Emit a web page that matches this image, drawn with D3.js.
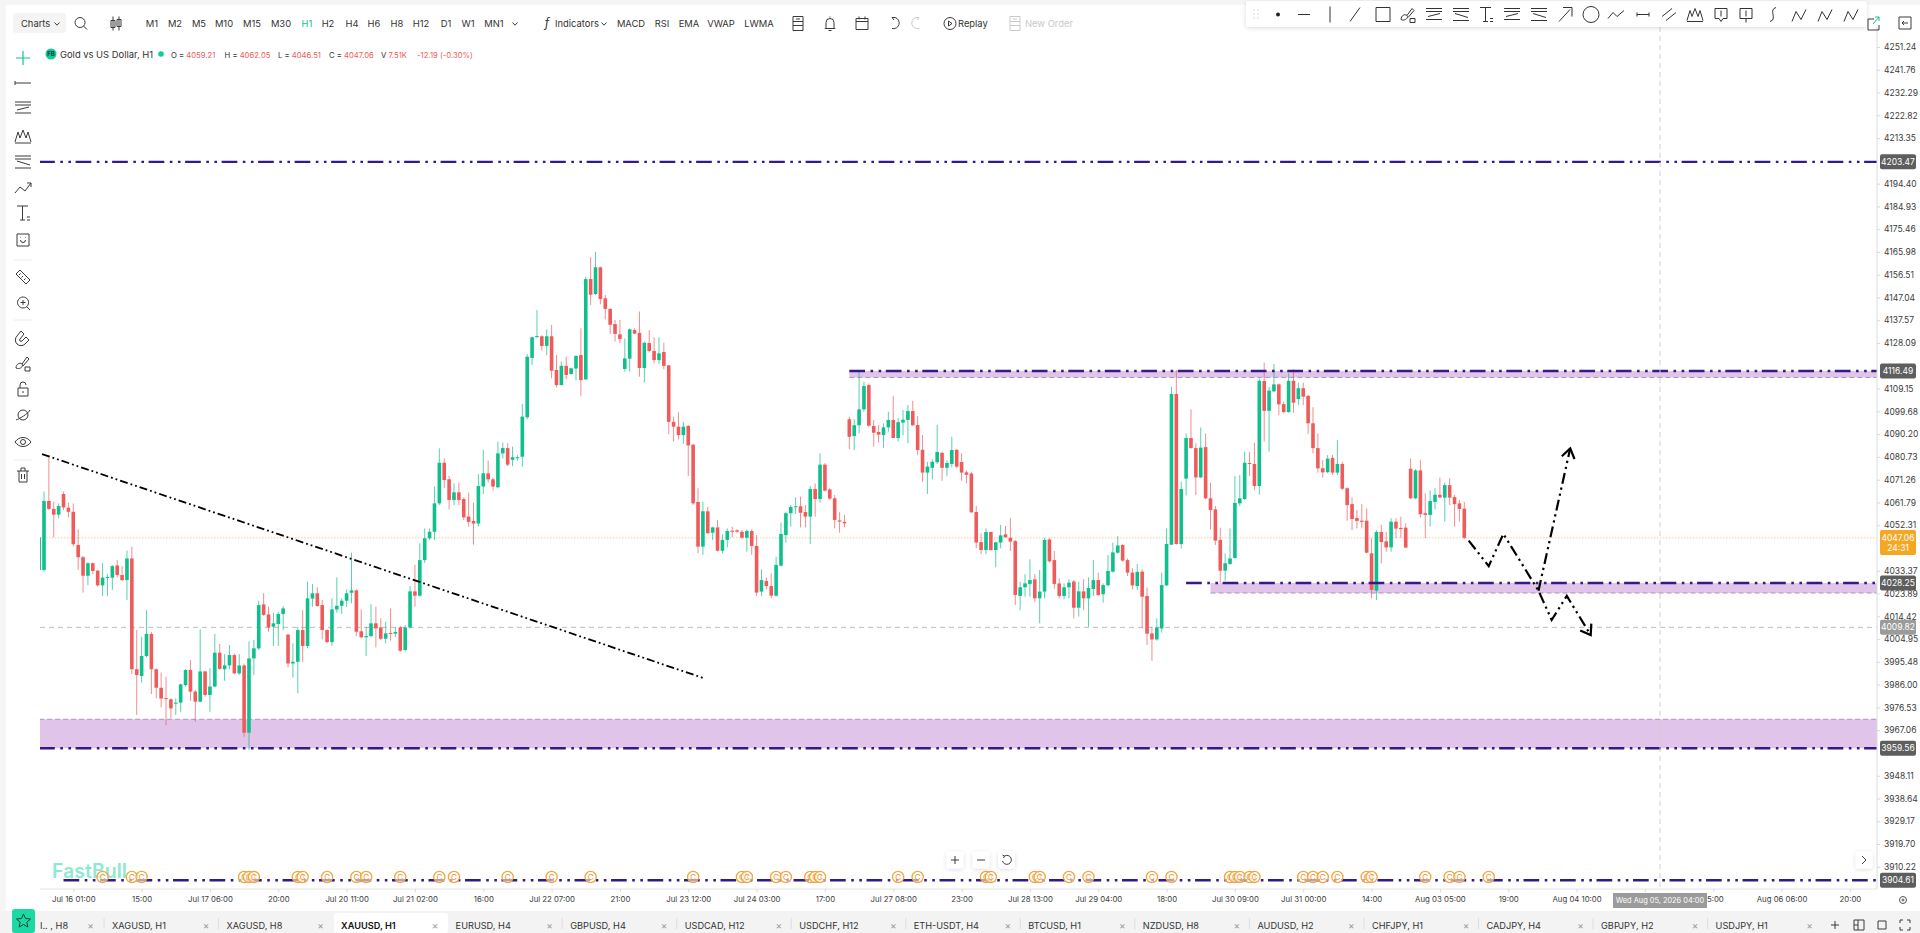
<!DOCTYPE html>
<html>
<head>
<meta charset="utf-8">
<title>XAUUSD H1</title>
<script src="https://cdn.jsdelivr.net/npm/d3@7"></script>
<style>
  html, body { margin: 0; background: #fff; overflow: hidden; }
  svg { display: block; font-family: Inter, Roboto, sans-serif; }
  .axis path { display: none; }
  .axis line { stroke: #d9d9d9; }
  .axis text { fill: #3c3c3c; font-family: Inter, Roboto, sans-serif; }
  .price text { font-size: 8.5px; }
  .time text { font-size: 7.8px; }
</style>
</head>
<body>
<svg id="chart" width="1920" height="933"></svg>
<script>
// candles, one row per hour: open, high, low, close
const barsJul16to21 = [
  [4033.7,4047.3,4033.7,4047.3],
  [4033.7,4066.3,4033.0,4062.4],[4062.4,4081.5,4058.6,4059.1],[4059.1,4062.1,4047.3,4056.7],[4056.7,4061.4,4055.2,4060.3],
  [4065.3,4066.3,4058.6,4059.7],[4059.6,4061.7,4055.6,4057.9],[4057.9,4061.4,4043.4,4044.4],[4044.1,4050.6,4033.7,4039.0],
  [4039.0,4039.5,4024.3,4031.3],[4031.3,4036.9,4027.4,4036.5],[4036.5,4036.9,4032.0,4033.3],[4033.4,4033.7,4026.7,4027.3],
  [4027.3,4036.5,4022.9,4030.5],[4030.5,4032.0,4022.9,4030.8],[4030.5,4035.8,4025.4,4035.3],[4035.6,4037.8,4030.6,4031.6],
  [4031.6,4035.3,4029.0,4029.5],[4029.5,4041.7,4021.2,4038.5],[4038.5,4043.4,3990.4,3992.4],[3992.4,4008.7,3973.4,3990.0],
  [3989.6,4005.9,3986.8,3997.9],[3997.9,4017.0,3997.4,4007.1],[4007.1,4008.0,3982.1,3992.4],[3992.4,3992.8,3980.3,3984.7],
  [3984.7,3991.0,3976.6,3980.2],[3980.4,3989.3,3969.2,3980.0],[3979.9,3980.3,3972.0,3976.1],[3978.2,3980.3,3973.4,3978.5],
  [3978.5,3986.5,3974.7,3986.1],[3985.8,3992.4,3985.2,3992.1],[3992.1,3996.2,3979.3,3983.1],[3983.1,3983.8,3970.6,3978.9],
  [3978.9,4009.0,3978.6,3991.5],[3991.5,3991.8,3981.0,3981.7],[3981.7,3992.8,3974.7,3985.2],[3985.2,4007.1,3984.9,3999.3],
  [3999.3,4002.9,3992.1,3992.6],[3992.4,3998.7,3987.6,3994.0],[3994.0,4002.5,3992.4,3998.3],[3998.3,3999.0,3990.3,3990.7],
  [3990.7,3998.7,3990.0,3994.0],[3994.0,3994.8,3964.3,3966.0],[3966.0,4003.9,3958.8,3996.9],[3996.9,4004.6,3990.0,4001.1],
  [4001.1,4020.9,4000.4,4019.1],[4019.4,4024.0,4014.6,4015.0],[4015.2,4018.4,4008.0,4009.8],[4010.1,4015.9,4002.1,4011.5],
  [4011.2,4016.3,4002.1,4015.4],[4015.4,4018.7,4008.7,4017.7],[4006.8,4007.1,3993.2,3994.8],[3994.8,4003.2,3989.0,3995.5],
  [3995.5,4010.1,3982.4,4008.7],[4008.7,4017.0,3995.5,4002.1],[4002.1,4028.8,4001.1,4021.9],[4021.8,4027.9,4018.4,4024.0],
  [4024.0,4026.5,4018.4,4018.7],[4019.1,4021.2,4004.8,4008.7],[4008.7,4009.0,4003.2,4003.7],[4003.7,4021.9,4002.1,4017.3],
  [4017.3,4030.6,4015.9,4018.8],[4018.8,4021.9,4015.4,4020.9],[4020.9,4025.6,4018.4,4024.0],[4024.2,4040.9,4019.8,4025.2],
  [4025.2,4025.6,4006.2,4008.0],[4008.2,4017.3,4005.3,4005.7],[4005.7,4010.1,3997.9,4006.2],[4006.2,4019.5,4005.7,4011.5],
  [4011.5,4018.4,4001.5,4009.4],[4009.8,4013.6,4004.6,4005.1],[4005.1,4012.2,4003.2,4007.3],[4007.5,4017.7,4004.3,4007.2],
  [4007.2,4009.8,4005.7,4007.9],[4009.8,4010.4,3999.7,4000.1],[4000.4,4010.8,3999.8,4009.8],[4009.8,4027.0,4009.4,4024.8],
  [4024.8,4035.8,4018.4,4023.0],[4023.0,4044.8,4022.6,4037.8],[4037.8,4051.0,4036.7,4046.9],[4046.9,4051.0,4046.2,4049.6],
  [4049.6,4068.4,4046.2,4061.4],[4061.4,4084.3,4060.7,4078.3],[4078.3,4080.1,4067.7,4071.1],[4071.4,4072.8,4058.9,4062.8]
];
const barsJul21to24 = [
  [4062.8,4069.7,4060.7,4066.0],[4066.0,4070.0,4060.7,4062.8],[4063.2,4063.9,4054.5,4055.6],[4055.9,4065.9,4051.7,4053.7],
  [4054.1,4061.7,4044.2,4053.0],[4053.0,4073.6,4051.7,4068.6],[4068.4,4083.6,4065.3,4073.9],[4073.9,4079.2,4070.0,4071.4],
  [4071.4,4072.2,4066.7,4068.4],[4068.1,4087.1,4067.7,4082.2],[4082.2,4086.6,4080.1,4084.4],[4084.4,4086.4,4076.9,4077.5],
  [4079.5,4085.0,4076.9,4080.6],[4080.3,4081.5,4079.2,4080.6],[4080.8,4102.7,4076.7,4097.5],[4097.2,4123.5,4096.4,4122.4],
  [4121.9,4130.8,4119.0,4130.5],[4130.6,4141.8,4130.1,4131.0],[4130.9,4131.3,4124.9,4126.9],[4126.9,4133.8,4123.1,4130.9],
  [4130.9,4135.6,4113.4,4116.6],[4116.9,4123.1,4109.7,4110.6],[4110.6,4120.4,4110.5,4118.6],[4118.6,4122.4,4113.0,4114.8],
  [4115.2,4117.9,4115.0,4117.6],[4117.5,4123.1,4112.5,4122.7],[4123.1,4134.2,4106.1,4112.7],[4113.0,4155.7,4112.7,4154.7],
  [4154.7,4163.8,4143.9,4148.2],[4148.5,4166.1,4148.1,4159.6],[4159.6,4159.9,4144.2,4146.4],[4146.7,4148.1,4138.0,4142.3],
  [4142.3,4142.5,4131.9,4135.7],[4136.0,4137.7,4128.7,4131.9],[4131.7,4137.7,4128.0,4129.8],[4117.3,4130.0,4116.2,4121.7],
  [4121.6,4134.2,4116.2,4133.8],[4133.5,4134.2,4131.9,4132.0],[4132.3,4141.2,4114.1,4117.7],[4117.7,4128.7,4111.7,4128.2],
  [4128.1,4133.5,4124.1,4124.8],[4124.8,4130.5,4119.6,4121.0],[4121.0,4130.5,4119.4,4123.8],[4124.4,4128.2,4117.2,4118.6],
  [4118.8,4119.1,4090.1,4095.3],[4095.3,4097.5,4087.1,4093.3],[4093.3,4099.3,4088.0,4089.8],[4089.8,4095.4,4086.1,4093.3],
  [4093.6,4094.0,4072.8,4085.5],[4085.8,4086.1,4060.7,4061.4],[4062.0,4067.7,4040.6,4043.4],[4043.4,4062.1,4040.0,4058.1],
  [4058.1,4060.0,4048.7,4049.0],[4049.2,4051.7,4046.2,4051.4],[4051.4,4054.5,4041.4,4041.7],[4041.7,4048.5,4040.6,4046.2],
  [4046.2,4051.0,4043.1,4049.9],[4050.0,4051.7,4047.3,4049.8],[4050.2,4050.6,4049.2,4049.6],[4049.6,4050.3,4046.7,4047.1],
  [4047.1,4050.6,4041.3,4049.9],[4049.9,4050.6,4040.0,4043.7],[4043.7,4048.2,4022.9,4024.3],[4024.7,4034.0,4022.9,4029.5],
  [4029.1,4030.6,4025.6,4027.0],[4027.0,4032.3,4021.9,4023.0],[4023.0,4039.2,4022.6,4035.8],[4035.5,4053.4,4035.1,4048.7],
  [4048.2,4058.0,4045.1,4057.3],[4057.3,4060.7,4051.7,4059.9],[4059.9,4063.9,4057.0,4060.2],[4060.2,4064.2,4051.4,4057.5],
  [4057.8,4060.7,4051.4,4055.9],[4055.9,4068.6,4044.5,4067.4],[4067.4,4069.7,4055.9,4063.2],[4063.2,4082.2,4061.7,4077.5],
  [4077.5,4078.1,4066.3,4066.7],[4067.2,4067.7,4062.8,4063.4],[4063.5,4064.9,4051.0,4054.5],[4054.3,4057.7,4049.2,4053.8],
  [4053.7,4056.6,4051.4,4053.1]
];
const barsJul27toAug03 = [
  [4096.4,4097.5,4083.9,4089.1],[4089.4,4096.4,4083.6,4093.9],[4093.9,4116.6,4090.5,4100.5],[4100.5,4112.0,4099.5,4110.2],
  [4110.6,4111.3,4093.3,4093.7],[4093.6,4096.1,4085.0,4090.8],[4091.1,4094.0,4086.7,4090.0],[4089.8,4094.7,4084.6,4093.0],
  [4093.0,4099.5,4091.2,4096.1],[4096.1,4106.1,4088.5,4088.6],[4088.6,4096.8,4087.1,4095.2],[4095.0,4100.2,4089.8,4096.2],
  [4096.1,4102.3,4086.4,4099.8],[4099.8,4104.1,4093.6,4093.9],[4094.0,4097.7,4081.5,4083.6],[4083.7,4089.8,4070.4,4074.2],
  [4074.2,4078.7,4065.3,4076.7],[4076.2,4079.7,4071.4,4078.7],[4078.5,4094.0,4077.8,4082.8],[4082.4,4082.9,4070.8,4076.2],
  [4076.2,4079.2,4072.8,4078.2],[4077.8,4089.1,4076.4,4083.6],[4083.7,4083.9,4076.0,4076.7],[4078.6,4082.2,4070.8,4074.2],
  [4074.3,4075.0,4069.7,4073.3],[4073.8,4074.6,4057.3,4057.7],[4057.8,4060.3,4042.7,4045.1],[4045.3,4048.9,4040.3,4042.0],
  [4042.0,4051.0,4040.3,4049.5],[4049.5,4049.6,4041.7,4042.0],[4042.0,4045.5,4034.8,4045.2],[4045.1,4052.4,4042.7,4048.1],
  [4048.5,4052.0,4047.0,4047.3],[4047.1,4055.2,4041.6,4045.5],[4045.7,4046.2,4019.1,4023.3],[4022.9,4028.8,4017.0,4026.5],
  [4026.5,4032.0,4022.6,4028.1],[4027.9,4038.1,4022.6,4029.5],[4029.8,4032.0,4020.5,4021.9],[4021.9,4033.7,4011.5,4024.7],
  [4024.7,4047.1,4021.9,4046.2],[4046.4,4046.9,4036.7,4037.3],[4037.8,4041.6,4025.9,4027.9],[4028.1,4030.2,4021.9,4022.9],
  [4022.9,4028.1,4021.5,4026.5],[4026.5,4029.8,4021.9,4028.4],[4028.9,4029.5,4013.6,4018.0],[4018.0,4028.8,4014.3,4024.8],
  [4024.8,4029.8,4017.0,4021.9],[4021.9,4030.6,4010.1,4026.2],[4025.8,4037.8,4022.9,4029.5],[4029.5,4032.6,4022.9,4023.3],
  [4023.6,4028.1,4020.1,4027.4],[4027.3,4039.9,4027.0,4033.3],[4033.0,4045.1,4032.6,4041.0],[4040.9,4047.8,4040.3,4043.9],
  [4044.1,4044.4,4037.1,4037.6],[4037.8,4038.5,4031.2,4032.6],[4032.6,4034.4,4025.6,4027.3],[4027.0,4036.2,4025.4,4032.9],
  [4033.0,4034.0,4009.4,4022.6],[4022.9,4026.5,4002.5,4007.2],[4007.3,4010.1,3995.9,4004.8],[4004.8,4013.6,4004.3,4009.8],
  [4009.4,4032.6,4007.6,4027.4],[4027.3,4051.0,4027.0,4044.5],[4044.2,4109.9,4044.1,4106.9],[4106.9,4116.9,4044.2,4044.5],
  [4044.5,4070.4,4042.6,4067.4],[4071.7,4090.5,4064.7,4088.6],[4088.6,4100.5,4084.2,4084.4],[4084.4,4086.4,4064.9,4072.2],
  [4072.2,4093.0,4071.9,4084.6],[4084.8,4090.5,4063.1,4063.5],[4063.5,4070.0,4050.6,4058.6],[4058.9,4060.3,4044.1,4045.9],
  [4046.2,4051.3,4028.4,4033.4],[4033.4,4040.6,4029.2,4036.5],[4036.2,4051.0,4035.8,4038.5],[4038.7,4072.8,4038.4,4061.6],
  [4061.4,4073.2,4060.3,4063.5],[4063.2,4082.9,4062.8,4078.3],[4078.2,4082.9,4072.8,4077.9],[4077.8,4086.7,4066.9,4068.6],
  [4068.6,4113.4,4065.0,4112.4],[4112.3,4119.9,4087.1,4099.9],[4099.9,4109.9,4082.9,4108.3],[4108.0,4119.4,4107.7,4110.9],
  [4110.9,4111.3,4098.2,4102.6],[4102.7,4103.7,4098.9,4099.4],[4099.4,4115.5,4099.1,4112.4],[4112.4,4117.2,4099.1,4103.3],
  [4104.8,4111.6,4102.3,4109.3],[4109.3,4111.6,4102.3,4105.8],[4106.1,4106.5,4090.3,4094.7],[4094.7,4101.4,4082.2,4084.4],
  [4084.4,4090.5,4074.2,4076.0],[4076.0,4079.4,4072.2,4074.3],[4074.4,4081.5,4073.9,4080.0],[4080.3,4081.5,4073.2,4074.2],
  [4074.2,4087.8,4073.2,4077.8],[4077.8,4078.7,4066.9,4067.5],[4067.7,4068.1,4054.2,4060.7],[4061.1,4063.9,4050.3,4054.9],
  [4055.3,4058.6,4051.0,4054.1],[4054.2,4061.1,4051.0,4053.7],[4054.2,4059.3,4040.6,4040.9],[4040.6,4046.9,4021.9,4025.4],
  [4025.1,4050.3,4021.2,4049.5],[4049.5,4052.4,4036.5,4045.3],[4045.6,4049.6,4041.3,4043.1],[4043.1,4055.2,4041.3,4053.8],
  [4053.8,4055.2,4046.9,4050.9],[4051.2,4055.9,4047.1,4050.7],[4051.3,4053.1,4042.8,4043.0],[4075.8,4080.1,4063.2,4063.5],
  [4063.5,4075.6,4063.1,4075.1],[4075.1,4079.4,4055.5,4056.9],[4057.3,4065.6,4046.9,4056.6],[4056.6,4066.9,4051.7,4062.4],
  [4062.0,4067.7,4058.9,4065.0],[4065.0,4072.1,4063.5,4063.9],[4063.8,4070.0,4053.8,4069.0],[4069.0,4071.8,4060.7,4063.8],
  [4064.0,4064.9,4051.7,4061.1],[4061.4,4062.8,4053.8,4059.1],[4059.21,4062.05,4046.51,4047.06]
];

// ticks that sit fully behind a price tag in the picture are left out
const priceTicks = [4251.24,4241.76,4232.29,4222.82,4213.35,4194.40,4184.93,4175.46,4165.98,4156.51,4147.04,4137.57,4128.09,4109.15,4099.68,4090.20,4080.73,4071.26,4061.79,4052.31,4033.37,4023.89,4014.42,4004.95,3995.48,3986.00,3976.53,3967.06,3948.11,3938.64,3929.17,3919.70,3910.22];
const timeLabels = ['Jul 16 01:00','15:00','Jul 17 06:00','20:00','Jul 20 11:00','Jul 21 02:00','16:00','Jul 22 07:00','21:00','Jul 23 12:00','Jul 24 03:00','17:00','Jul 27 08:00','23:00','Jul 28 13:00','Jul 29 04:00','18:00','Jul 30 09:00','Jul 31 00:00','14:00','Aug 03 05:00','19:00','Aug 04 10:00','','15:00','Aug 06 06:00','20:00'];

// drawn levels and zones, price + first bar
const levelPrices = [4203.47, 4116.49, 4028.25, 3959.56, 3904.61];
const levelStartBars = [-1, 165, 234, -1, 4];
const zoneTops = [3971.6, 4116.49, 4028.25];
const zoneBottoms = [3959.56, 4113.8, 4024.1];
const zoneEdges = [3971.6, 4113.8, 4024.1];
const zoneStartBars = [-1, 165, 239];
const lastPrice = 4047.06;
const prevMark = 4009.82;
const trendBars = [-0.4, 135];
const trendPrices = [4081.9, 3988.8];
const pathBars = [291.9, 296, 299, 306.2, 308.9, 312, 316.9];
const pathPrices = [4045.9, 4035.3, 4048.7, 4025.1, 4012.9, 4022.9, 4006.6];
const upBars = [306.2, 312.7];
const upPrices = [4025.1, 4084.3];
const eventBars = [12,18,20,41,42,43,52,53,58,64,66,73,81,84,95,104,112,133,143,144,150,152,157,158,159,175,179,193,194,203,204,210,214,227,231,243,244,245,247,248,258,260,262,265,271,272,283,288,290,296];

const legendNames = ['O','H','L','C'];
const legendValues = ['4059.21','4062.05','4046.51','4047.06'];
const tabLabels = ['XAGUSD, H1','XAGUSD, H8','XAUUSD, H1','EURUSD, H4','GBPUSD, H4','USDCAD, H12','USDCHF, H12','ETH-USDT, H4','BTCUSD, H1','NZDUSD, H8','AUDUSD, H2','CHFJPY, H1','CADJPY, H4','GBPJPY, H2','USDJPY, H1'];

const bars = [...barsJul16to21, ...barsJul21to24, ...barsJul27toAug03];

const GREEN = '#0fbf8c', RED = '#ef5b5b', INDIGO = '#33198c', ZONE = '#e0c4e9';
const plotLeft = 40, plotRight = 1877, plotBottom = 889;

const x = d3.scaleLinear().domain([0, 291]).range([44, 1464.3]);
const y = d3.scaleLinear().domain([4251.24, 3904.61]).range([47, 880.3]);

const svg = d3.select('#chart');
const defs = svg.append('defs');
defs.append('clipPath').attr('id', 'plot').append('rect')
  .attr('x', plotLeft).attr('y', 0).attr('width', plotRight - plotLeft).attr('height', plotBottom);
defs.append('marker').attr('id', 'head').attr('markerUnits', 'userSpaceOnUse')
  .attr('viewBox', '-12 -9 14 18').attr('markerWidth', 14).attr('markerHeight', 18)
  .attr('refX', 0).attr('refY', 0).attr('orient', 'auto')
  .append('path').attr('d', 'M-9.5 -6.5L0 0L-9.5 6.5').attr('fill', 'none').attr('stroke', '#000').attr('stroke-width', 2.2);
const shadow = defs.append('filter').attr('id', 'soft').attr('x', '-20%').attr('y', '-40%').attr('width', '140%').attr('height', '200%');
shadow.append('feDropShadow').attr('dx', 0).attr('dy', 1).attr('stdDeviation', 2).attr('flood-color', '#000').attr('flood-opacity', 0.14);

// page frame
svg.append('rect').attr('width', 1920).attr('height', 5).attr('fill', '#f5f5f5');
svg.append('rect').attr('width', 6).attr('height', 933).attr('fill', '#f5f5f5');

const plot = svg.append('g').attr('clip-path', 'url(#plot)');

// zones
plot.selectAll('rect.zone').data(zoneTops).join('rect').attr('class', 'zone')
  .attr('x', (d, i) => x(zoneStartBars[i]))
  .attr('y', d => y(d))
  .attr('width', (d, i) => plotRight - x(zoneStartBars[i]))
  .attr('height', (d, i) => y(zoneBottoms[i]) - y(d))
  .attr('fill', ZONE);
plot.selectAll('line.edge').data(zoneEdges).join('line').attr('class', 'edge')
  .attr('x1', (d, i) => x(zoneStartBars[i])).attr('x2', plotRight)
  .attr('y1', d => y(d)).attr('y2', d => y(d))
  .attr('stroke', '#9a7fae').attr('stroke-width', 0.8).attr('stroke-dasharray', '5,3');

// last price and mark lines
plot.append('line').attr('x1', plotLeft).attr('x2', plotRight).attr('y1', y(lastPrice)).attr('y2', y(lastPrice))
  .attr('stroke', '#f3cf9c').attr('stroke-width', 1).attr('stroke-dasharray', '1.5,1.5');
plot.append('line').attr('x1', plotLeft).attr('x2', plotRight).attr('y1', y(prevMark)).attr('y2', y(prevMark))
  .attr('stroke', '#bdbdbd').attr('stroke-width', 1).attr('stroke-dasharray', '5,4');

// crosshair
svg.append('line').attr('x1', 1660).attr('x2', 1660).attr('y1', 27).attr('y2', plotBottom)
  .attr('stroke', '#cfcfcf').attr('stroke-dasharray', '5,4');

// candles
const candle = plot.selectAll('g.candle').data(bars).join('g').attr('class', 'candle');
candle.append('line')
  .attr('x1', (d, i) => x(i - 1)).attr('x2', (d, i) => x(i - 1))
  .attr('y1', d => y(d[1])).attr('y2', d => y(d[2]))
  .attr('stroke', d => d[3] >= d[0] ? GREEN : RED).attr('stroke-width', 1).attr('stroke-opacity', 0.7);
candle.append('rect')
  .attr('x', (d, i) => x(i - 1) - 1.8).attr('width', 3.6)
  .attr('y', d => y(Math.max(d[0], d[3])))
  .attr('height', d => Math.max(1, Math.abs(y(d[0]) - y(d[3]))))
  .attr('fill', d => d[3] >= d[0] ? GREEN : RED);

// drawn levels
plot.selectAll('line.level').data(levelPrices).join('line').attr('class', 'level')
  .attr('x1', (d, i) => x(levelStartBars[i])).attr('x2', plotRight)
  .attr('y1', d => y(d)).attr('y2', d => y(d))
  .attr('stroke', INDIGO).attr('stroke-width', 2.4).attr('stroke-dasharray', '15.7,5.5,2.6,5.5,2.6,4.6');

// trend line and projected path
const line = d3.line();
const toPoints = (b, p) => b.map((d, i) => [x(d), y(p[i])]);
plot.append('path').attr('d', line(toPoints(trendBars, trendPrices)))
  .attr('fill', 'none').attr('stroke', '#000').attr('stroke-width', 1.8).attr('stroke-dasharray', '8,3,1.8,3,1.8,3');
svg.append('path').attr('d', line(toPoints(pathBars, pathPrices)))
  .attr('fill', 'none').attr('stroke', '#000').attr('stroke-width', 2.2).attr('stroke-dasharray', '11,4,2.2,4,2.2,4').attr('marker-end', 'url(#head)');
svg.append('path').attr('d', line(toPoints(upBars, upPrices)))
  .attr('fill', 'none').attr('stroke', '#000').attr('stroke-width', 2.2).attr('stroke-dasharray', '11,4,2.2,4,2.2,4').attr('marker-end', 'url(#head)');

// watermark
svg.append('text').attr('x', 52).attr('y', 878).attr('font-size', 19.5).attr('font-weight', 600).attr('fill', '#8fe9d2').text('FastBull');

// calendar markers
const marker = svg.selectAll('g.event').data(eventBars).join('g').attr('class', 'event')
  .attr('transform', d => `translate(${x(d)},877)`);
marker.append('circle').attr('r', 5.6).attr('fill', '#fff').attr('fill-opacity', 0.6).attr('stroke', '#f4a53c').attr('stroke-width', 1.3);
marker.append('text').attr('text-anchor', 'middle').attr('y', 3).attr('font-size', 8).attr('fill', '#e8922a').text('C');

// axes
svg.append('line').attr('x1', plotRight).attr('x2', plotRight).attr('y1', 27).attr('y2', plotBottom).attr('stroke', '#dcdcdc');
svg.append('line').attr('x1', plotLeft).attr('x2', plotRight).attr('y1', plotBottom).attr('y2', plotBottom).attr('stroke', '#e4e4e4');
svg.append('g').attr('class', 'axis price').attr('transform', `translate(${plotRight},0)`)
  .call(d3.axisRight(y).tickValues(priceTicks).tickSize(3).tickPadding(4).tickFormat(d3.format('.2f')));
svg.append('g').attr('class', 'axis time').attr('transform', `translate(0,${plotBottom})`)
  .call(d3.axisBottom(x).tickValues(timeLabels.map((d, i) => 6 + 14 * i)).tickSize(3).tickPadding(4).tickFormat((d, i) => timeLabels[i]));

// price tags
const tagPrices = [4203.47, 4116.49, 4028.25, 4009.82, 3959.56, 3904.61];
const tagFills = ['#5e5e5e', '#5e5e5e', '#5e5e5e', '#9b9b9b', '#5e5e5e', '#5e5e5e'];
const tag = svg.selectAll('g.tag').data(tagPrices).join('g').attr('class', 'tag').attr('transform', d => `translate(1880,${y(d)})`);
tag.append('rect').attr('y', -7.5).attr('width', 36).attr('height', 15).attr('rx', 2).attr('fill', (d, i) => tagFills[i]);
tag.append('text').attr('x', 18).attr('y', 3.1).attr('text-anchor', 'middle').attr('font-size', 8.5).attr('fill', '#fff').text(d => d3.format('.2f')(d));
const now = svg.append('g').attr('transform', `translate(1880,${y(lastPrice)})`);
now.append('rect').attr('y', -7.8).attr('width', 36).attr('height', 25).attr('rx', 2).attr('fill', '#f5a623');
now.append('text').attr('x', 18).attr('y', 3.1).attr('text-anchor', 'middle').attr('font-size', 8.5).attr('fill', '#fff').text(d3.format('.2f')(lastPrice));
now.append('text').attr('x', 18).attr('y', 13.1).attr('text-anchor', 'middle').attr('font-size', 8.5).attr('fill', '#fff').text('24:31');

// crosshair time tag
svg.append('rect').attr('x', 1613).attr('y', 893).attr('width', 94).attr('height', 15).attr('fill', '#9b9b9b');
svg.append('text').attr('x', 1660).attr('y', 903.2).attr('text-anchor', 'middle').attr('font-size', 7.4).attr('fill', '#fff').text('Wed Aug 05, 2026 04:00');

// legend row
const TXT = '#333';
function label(px, py, str, size, fill, anchor, weight) {
  return svg.append('text').attr('x', px).attr('y', py).attr('font-size', size).attr('fill', fill || TXT)
    .attr('text-anchor', anchor || 'start').attr('font-weight', weight || 400).text(str);
}
svg.append('circle').attr('cx', 51).attr('cy', 54).attr('r', 5.5).attr('fill', '#14cb98');
label(51, 56.2, 'FB', 6, '#0b3b2e', 'middle', 700);
label(60, 57.5, 'Gold vs US Dollar, H1', 9.4, '#333');
svg.append('circle').attr('cx', 161).attr('cy', 54).attr('r', 2.8).attr('fill', '#14cb98');
const legendX = [171, 224.5, 278, 329];
legendNames.forEach((name, i) => {
  const t = label(legendX[i], 57.5, '', 7.7, TXT);
  t.append('tspan').text(name + ' = ');
  t.append('tspan').attr('fill', RED).text(legendValues[i]);
});
const vol = label(381, 57.5, '', 7.7, TXT);
vol.append('tspan').text('V ');
vol.append('tspan').attr('fill', RED).text('7.51K');
label(417, 57.5, '-12.19 (-0.30%)', 7.7, RED);

// top toolbar
const TOP = 23.5;
svg.append('rect').attr('x', 13).attr('y', 13).attr('width', 53).attr('height', 20).attr('rx', 3).attr('fill', '#f4f4f4');
label(21, TOP + 3.3, 'Charts', 9.4, TXT);
[['M1',152],['M2',175],['M5',199],['M10',224],['M15',252],['M30',281],['H1',307],['H2',328],['H4',352],['H6',374],['H8',397],['H12',421],['D1',446],['W1',468],['MN1',494],
 ['MACD',631],['RSI',662],['EMA',689],['VWAP',721],['LWMA',759]].forEach(d => {
  label(d[1], TOP + 3.2, d[0], 9.4, d[0] === 'H1' ? '#12c493' : TXT, 'middle');
});
label(555, TOP + 3.2, 'Indicators', 9.4, TXT);
label(547, TOP + 3.5, 'f', 12, TXT, 'middle').attr('font-style', 'italic');
label(958, TOP + 3.2, 'Replay', 9.4, TXT);
label(1025, TOP + 3.2, 'New Order', 9.4, '#c9c9c9');

function icon(px, py, d, color, width) {
  return svg.append('path').attr('transform', `translate(${px},${py})`).attr('d', d)
    .attr('fill', 'none').attr('stroke', color || '#3a3a3a').attr('stroke-width', width || 1);
}
const ICONS = {
  chev: 'M-2.5 -1.5L0 1.2L2.5 -1.5',
  search: 'M-1 -6A5 5 0 1 0 -0.9 4A5 5 0 1 0 -1 -6M2.6 2.6L6 6',
  candles: 'M-3 -7V7M-5 -3H-1V4H-5ZM3 -7V7M1 -4H5V3H1Z',
  panel: 'M-5 -7H5V7H-5ZM-5 -2H5M-5 2H5M-2 -4.5H2',
  bell: 'M0 -7V-6M-4 4V-1A4 4 0 0 1 4 -1V4L5 5H-5ZM-1.5 7H1.5',
  calendar: 'M-6 -5H6V6H-6ZM-6 -2H6M-3 -7V-4M3 -7V-4',
  undo: 'M-3 -6L-1 -3.5M-3 -6H0A5.5 5.5 0 1 1 -3 5',
  redo: 'M3 -6L1 -3.5M3 -6H0A5.5 5.5 0 1 0 3 5',
  replay: 'M-6 0A6 6 0 1 1 0 6A6 6 0 0 1 -6 0M-1.5 -2.5L2 0L-1.5 2.5Z',
  export: 'M-6 -4H0M-6 -4V7H5V2',
  back: 'M-6 -6H6V6H-6ZM-3 0H3M-3 0L-1 -2M-3 0L-1 2',
  hline: 'M-8 0H8M-8 -2V2',
  channel: 'M-8 -6H8M-8 -3H8M-8 5H8M-6 2L6 -1',
  wave: 'M-8 6L-5 -4L-3 2L0 -6L3 2L5 -4L8 6M-8 7H8',
  fib: 'M-8 -6H8M-8 -3H8M-8 6H8M-6 -1L7 3',
  trend: 'M-8 5L-3 -1L2 3L8 -5M4 -5H8V-1',
  text: 'M-6 -7H5M-0.5 -7V7M-3 7H2M4 4H7M4 7H7',
  note: 'M-6 -6H6V6H-6ZM-2.5 0A2.5 2.5 0 0 0 2.5 0M-2.5 -2.5V-2M2.5 -2.5V-2',
  ruler: 'M-7 -3L-3 -7L7 3L3 7ZM-4 -2L-2.5 -3.5M-1.5 0.5L0 -1M1 3L2.5 1.5',
  zoom: 'M0 -6A5.5 5.5 0 1 0 0.1 -6M-2.5 -0.5H2.5M0 -3V2M4 4L7 7',
  magnet: 'M-2 -7L-6 -2A5 5 0 0 0 2 6L6 2L3 -1L-1 3A1 1 0 0 1 -3 1L1 -4Z',
  brush: 'M-7 5C-7 1 -3 -1 -1 1C1 3 -3 7 -7 5M-1 1L4 -6L6 -4L0 3M2 4H7V8H2Z',
  lock: 'M-5 -1H5V7H-5ZM-3 -1V-4A3 3 0 0 1 3 -4M0 2V4',
  planet: 'M-5 0A5 5 0 1 0 5 0A5 5 0 1 0 -5 0M-7 5C-4 4 5 -1 7 -5',
  eye: 'M-8 0C-4 -6 4 -6 8 0C4 6 -4 6 -8 0M-2.5 0A2.5 2.5 0 1 0 2.5 0A2.5 2.5 0 1 0 -2.5 0',
  trash: 'M-6 -4H6M-4 -4V7H4V-4M-2 -4V-7H2V-4M-1.5 -1V4M1.5 -1V4',
  grid: 'M-2 -5V-4M2 -5V-4M-2 -1V0M2 -1V0M-2 3V4M2 3V4',
  dash: 'M-6 0H6',
  vline: 'M0 -8V8',
  slash: 'M-5 7L5 -7',
  rect: 'M-7 -7H7V7H-7Z',
  arrow: 'M-6 7L5 -5M-2 -7H7V2',
  circle: 'M-8 0A8 8 0 1 0 8 0A8 8 0 1 0 -8 0',
  zig: 'M-8 4L-3 -2L1 2L8 -4',
  cross: 'M-6 0H6M-6 -2V2M6 -2V2',
  pair: 'M-7 2L3 -6M-3 6L7 -2',
  bubble: 'M-6 -6H6V4H2L0 7L-2 4H-6ZM0 -4V2',
  flag: 'M-6 -6H6V4H-6ZM0 4V8M0 -4V2',
  curve: 'M3 -7C-5 -5 5 5 -3 7',
  abc: 'M-7 7L-3 -3L2 5L7 -5'
};
[[57,'chev'],[81,'search'],[116,'candles'],[515,'chev'],[604,'chev'],[798,'panel'],[830,'bell'],[862,'calendar'],[895,'undo'],[950,'replay']]
  .forEach(d => icon(d[0], TOP + (d[1] === 'chev' ? 0.5 : 0), ICONS[d[1]]));
icon(1015, TOP, ICONS.panel, '#c9c9c9');
icon(916, TOP, ICONS.redo, '#c9c9c9');

// left toolbar
icon(23, 58, 'M-7 0H7M0 -7V7', '#12c493', 1.2);
[['hline',83],['channel',108],['wave',136],['fib',162],['trend',188],['text',213],['note',240],['ruler',277],['zoom',303],['magnet',338],['brush',363],['lock',389],['planet',415],['eye',442],['trash',475]]
  .forEach(d => icon(23, d[1], ICONS[d[0]]));
[260, 320, 460].forEach(py => svg.append('line').attr('x1', 14).attr('x2', 32).attr('y1', py).attr('y2', py).attr('stroke', '#ececec'));

// floating drawing toolbar
svg.append('rect').attr('x', 1246).attr('y', 1).attr('width', 621).attr('height', 26).attr('rx', 3).attr('fill', '#fff').attr('filter', 'url(#soft)');
[['grid',1256],['dash',1304],['vline',1330],['slash',1355],['rect',1383],['brush',1408],['channel',1434],['fib',1461],['text',1486],['channel',1512],['fib',1539],['arrow',1565],['circle',1591],['zig',1616],['cross',1643],['pair',1669],['wave',1695],['bubble',1721],['flag',1746],['curve',1773],['abc',1799],['abc',1825],['abc',1851]]
  .forEach(d => icon(d[1], 14.5, ICONS[d[0]], d[0] === 'grid' ? '#bbb' : '#333'));
svg.append('circle').attr('cx', 1278).attr('cy', 14.5).attr('r', 2).attr('fill', '#222');
icon(1874, 23, ICONS.export);
icon(1874, 23, 'M-1 1L5 -6M1 -6H5V-2', '#12c493');
icon(1905, 23, ICONS.back);

// zoom buttons
[[955, 'M-4 0H4M0 -4V4'], [981, 'M-4 0H4'], [1006.5, 'M-2 -4A4.5 4.5 0 1 1 -4 1M-2 -4L-4 -5M-2 -4L-3 -2'], [1864, 'M-2 -4L2 0L-2 4']].forEach(d => {
  svg.append('rect').attr('x', d[0] - 8.5).attr('y', 851.5).attr('width', 17).attr('height', 17).attr('rx', 3).attr('fill', '#fff').attr('filter', 'url(#soft)');
  icon(d[0], 860, d[1]);
});

// settings gear
icon(1903, 900, 'M-3.5 0A3.5 3.5 0 1 0 3.5 0A3.5 3.5 0 1 0 -3.5 0M-1 0A1 1 0 1 0 1 0A1 1 0 1 0 -1 0', '#555');

// tab bar
svg.append('rect').attr('y', 911).attr('width', 1920).attr('height', 22).attr('fill', '#f3f3f3');
svg.append('rect').attr('x', 334).attr('y', 913).attr('width', 114).attr('height', 20).attr('rx', 3).attr('fill', '#fff');
svg.append('rect').attr('x', 12).attr('y', 909).attr('width', 23).attr('height', 24).attr('rx', 3).attr('fill', '#1cd8a5');
icon(23.5, 921, 'M0 -7L2 -2.5L7 -2L3.3 1.2L4.4 6L0 3.5L-4.4 6L-3.3 1.2L-7 -2L-2 -2.5Z', '#11463a');
label(40, 928.5, 'I.. , H8', 9.2, TXT);
label(90.6, 928.5, '×', 10, '#999', 'middle');
tabLabels.forEach((name, i) => {
  const tx = 112 + i * 114.54;
  label(tx, 928.5, name, 9.2, name === 'XAUUSD, H1' ? '#111' : TXT, 'start', name === 'XAUUSD, H1' ? 600 : 400);
  label(tx + 94, 928.5, '×', 10, '#999', 'middle');
  if (name !== 'XAUUSD, H1' && name !== 'EURUSD, H4')
    svg.append('line').attr('x1', tx - 8).attr('x2', tx - 8).attr('y1', 918).attr('y2', 929).attr('stroke', '#dedede');
});
[[1835, 'M-4 0H4M0 -4V4'], [1859, 'M-5 -5H5V5H-5ZM-1 -5V5M-5 0H-1'], [1882, 'M-4 -4H4V4H-4Z'], [1905, 'M-5 -2V-5H-2M2 -5H5V-2M5 2V5H2M-2 5H-5V2']]
  .forEach(d => icon(d[0], 925, d[1]));
</script>
</body>
</html>
